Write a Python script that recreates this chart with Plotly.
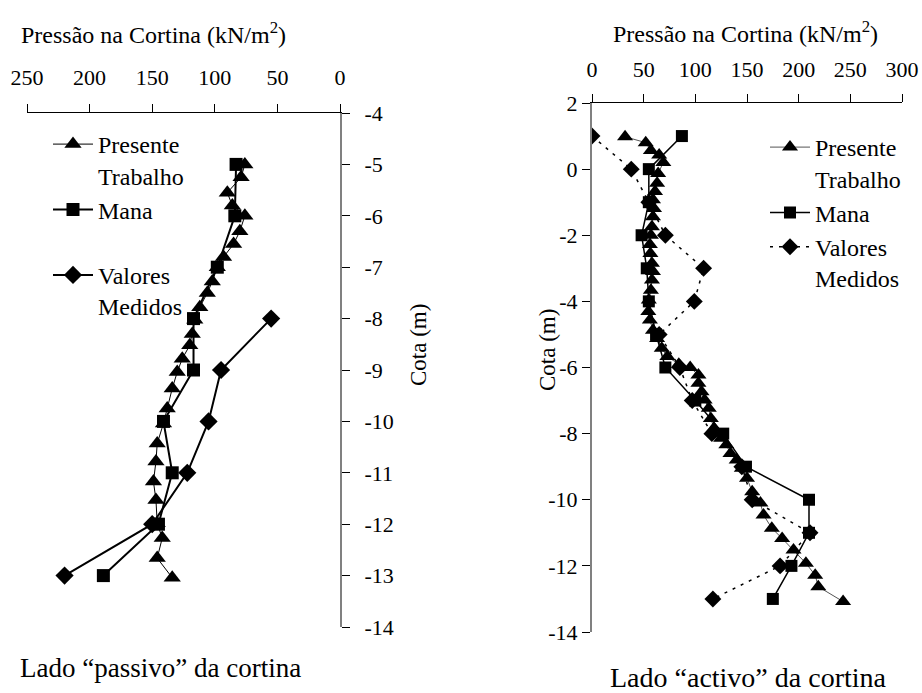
import plotly.graph_objects as go

# ---------------- data: passive side (left) ----------------
pt_left_cota = [-5.0, -5.25, -5.55, -5.8, -6.0, -6.3, -6.55, -6.8, -7.0, -7.28, -7.5, -7.78,
                -8.02, -8.3, -8.52, -8.78, -9.04, -9.36, -9.75, -10.04, -10.43, -10.78,
                -11.17, -11.53, -11.98, -12.27, -12.66, -13.04]
pt_left_p = [76, 79, 90, 86, 76, 80, 85, 93, 98, 102, 106, 112,
             116, 118, 120, 126, 130, 134, 138, 141, 146, 147,
             149, 147, 146, 142, 146, 134]

mana_left_cota = [-5, -6, -7, -8, -9, -10, -11, -12, -13]
mana_left_p = [83, 84, 98, 117, 117, 141, 134, 145, 189]

med_left_cota = [-8, -9, -10, -11, -12, -13]
med_left_p = [55, 95, 105, 122, 150, 220]

# ---------------- data: active side (right) ----------------
pt_right_cota = [0.98, 0.80, 0.56, 0.43, 0.2, -0.13, -0.43, -0.68, -0.93, -1.19, -1.44, -1.74,
                 -2.0, -2.28, -2.55, -2.85, -3.1, -3.35, -3.66, -3.96, -4.31, -4.56, -4.87,
                 -5.12, -5.42, -5.67, -5.9, -6.0, -6.23, -6.48, -6.73, -6.98, -7.23, -7.54,
                 -7.84, -8.14, -8.34, -8.6, -8.8, -9.05, -9.35, -9.76, -10.1, -10.46, -10.86,
                 -11.17, -11.52, -11.92, -12.28, -12.63, -13.08]
pt_right_p = [32, 52, 57, 65, 69, 64, 63, 61, 59, 60, 59, 58,
              57, 56, 56.5, 58, 59, 58, 57, 55, 54.5, 56, 59,
              63, 67.5, 73, 84, 95, 103, 103, 106, 109, 113, 115,
              118, 125, 130, 134, 140, 145, 150, 155, 163, 166, 174,
              184, 195, 207, 216, 219, 243]

mana_right_cota = [1, 0, -1, -2, -3, -4, -5, -6, -7, -8, -9, -10, -11, -12, -13]
mana_right_p = [87, 55, 55, 48, 53, 55, 62, 71, 100, 127, 149, 210, 210, 193, 175]

med_right_cota = [1, 0, -1, -2, -3, -4, -5, -6, -7, -8, -9, -10, -11, -12, -13]
med_right_p = [0, 38, 55, 71, 108, 99, 65, 85, 97, 116, 145, 155, 211, 182, 117]

x_ticks_left = [250, 200, 150, 100, 50, 0]
x_ticks_right = [0, 50, 100, 150, 200, 250, 300]
y_ticks_left = [-4, -5, -6, -7, -8, -9, -10, -11, -12, -13, -14]
y_labels_left = ["-4", "-5", "-6", "-7", "-8", "-9", "-10", "-11", "-12", "-13", "-14"]
y_ticks_right = [2, 0, -2, -4, -6, -8, -10, -12, -14]
y_labels_right = ["2", "0", "-2", "-4", "-6", "-8", "-10", "-12", "-14"]

FONT = "Liberation Serif"

fig = go.Figure()

# left subplot
fig.add_trace(go.Scatter(x=pt_left_p, y=pt_left_cota, name="Presente<br>Trabalho",
                         mode="lines+markers", line=dict(color="black", width=1),
                         marker=dict(symbol="triangle-up", size=15, color="black"),
                         xaxis="x", yaxis="y", legend="legend"))
fig.add_trace(go.Scatter(x=mana_left_p, y=mana_left_cota, name="Mana<br> ",
                         mode="lines+markers", line=dict(color="black", width=2),
                         marker=dict(symbol="square", size=13, color="black"),
                         xaxis="x", yaxis="y", legend="legend"))
fig.add_trace(go.Scatter(x=med_left_p, y=med_left_cota, name="Valores<br>Medidos",
                         mode="lines+markers", line=dict(color="black", width=2),
                         marker=dict(symbol="diamond", size=14, color="black"),
                         xaxis="x", yaxis="y", legend="legend"))

# right subplot
fig.add_trace(go.Scatter(x=pt_right_p, y=pt_right_cota, name="Presente<br>Trabalho",
                         mode="lines+markers", line=dict(color="#555555", width=1),
                         marker=dict(symbol="triangle-up", size=14, color="black"),
                         xaxis="x2", yaxis="y2", legend="legend2"))
fig.add_trace(go.Scatter(x=mana_right_p, y=mana_right_cota, name="Mana",
                         mode="lines+markers", line=dict(color="black", width=1.5),
                         marker=dict(symbol="square", size=12, color="black"),
                         xaxis="x2", yaxis="y2", legend="legend2"))
fig.add_trace(go.Scatter(x=med_right_p, y=med_right_cota, name="Valores<br>Medidos",
                         mode="lines+markers", line=dict(color="black", width=1.5, dash="3px,6px"),
                         marker=dict(symbol="diamond", size=13, color="black"),
                         xaxis="x2", yaxis="y2", legend="legend2"))

tickfont = dict(family=FONT, size=22, color="black")

fig.update_layout(
    template="none",
    width=922, height=693,
    margin=dict(l=0, r=0, t=0, b=0, autoexpand=False),
    paper_bgcolor="white", plot_bgcolor="white",
    font=dict(family=FONT, size=22, color="black"),
    xaxis=dict(domain=[27/922, 340/922], range=[250, 0], side="top", anchor="y",
               tickvals=x_ticks_left, ticks="outside", ticklen=8, tickcolor="black",
               showline=True, linecolor="black", linewidth=1, showgrid=False, zeroline=False,
               tickfont=tickfont, ticklabelstandoff=10, automargin=False),
    yaxis=dict(domain=[1-627/693, 1-113/693], range=[-14, -4], side="right", anchor="x",
               tickvals=y_ticks_left, ticktext=y_labels_left,
               ticks="outside", ticklen=8, tickcolor="black",
               showline=True, linecolor="#808080", linewidth=2, showgrid=False, zeroline=False,
               tickfont=tickfont, ticklabelstandoff=10, automargin=False),
    xaxis2=dict(domain=[592/922, 902/922], range=[0, 300], side="top", anchor="y2",
                tickvals=x_ticks_right, ticks="outside", ticklen=8, tickcolor="black",
                showline=True, linecolor="black", linewidth=1, showgrid=False, zeroline=False,
                tickfont=tickfont, ticklabelstandoff=8, automargin=False),
    yaxis2=dict(domain=[1-632/693, 1-103/693], range=[-14, 2], side="left", anchor="x2",
                tickvals=y_ticks_right, ticktext=y_labels_right,
                ticks="outside", ticklen=8, tickcolor="black",
                showline=True, linecolor="#808080", linewidth=2, showgrid=False, zeroline=False,
                tickfont=tickfont, automargin=False),
    legend=dict(x=48/922, y=1-122/693, xanchor="left", yanchor="top", bgcolor="rgba(0,0,0,0)",
                font=dict(family=FONT, size=24, color="black"), valign="top",
                tracegroupgap=0, itemwidth=40),
    legend2=dict(x=765/922, y=1-125/693, xanchor="left", yanchor="top", bgcolor="rgba(0,0,0,0)",
                 font=dict(family=FONT, size=24, color="black"), valign="top",
                 tracegroupgap=0, itemwidth=40),
    showlegend=True,
)

ann = [
    dict(text="Pressão na Cortina (kN/m<sup>2</sup>)", x=153/922, y=1-33/693, size=24),
    dict(text="Pressão na Cortina (kN/m<sup>2</sup>)", x=745/922, y=1-32/693, size=24),
    dict(text="Lado “passivo” da cortina", x=160/922, y=1-668/693, size=27),
    dict(text="Lado “activo” da cortina", x=748/922, y=1-677/693, size=28),
    dict(text="Cota (m)", x=418/922, y=1-345/693, size=23, angle=-90),
    dict(text="Cota (m)", x=547/922, y=1-350/693, size=23, angle=-90),
]
for a in ann:
    fig.add_annotation(xref="paper", yref="paper", showarrow=False,
                       xanchor="center", yanchor="middle",
                       font=dict(family=FONT, color="black", size=a["size"]),
                       text=a["text"], x=a["x"], y=a["y"], textangle=a.get("angle", 0))

fig.write_html("out.html")
